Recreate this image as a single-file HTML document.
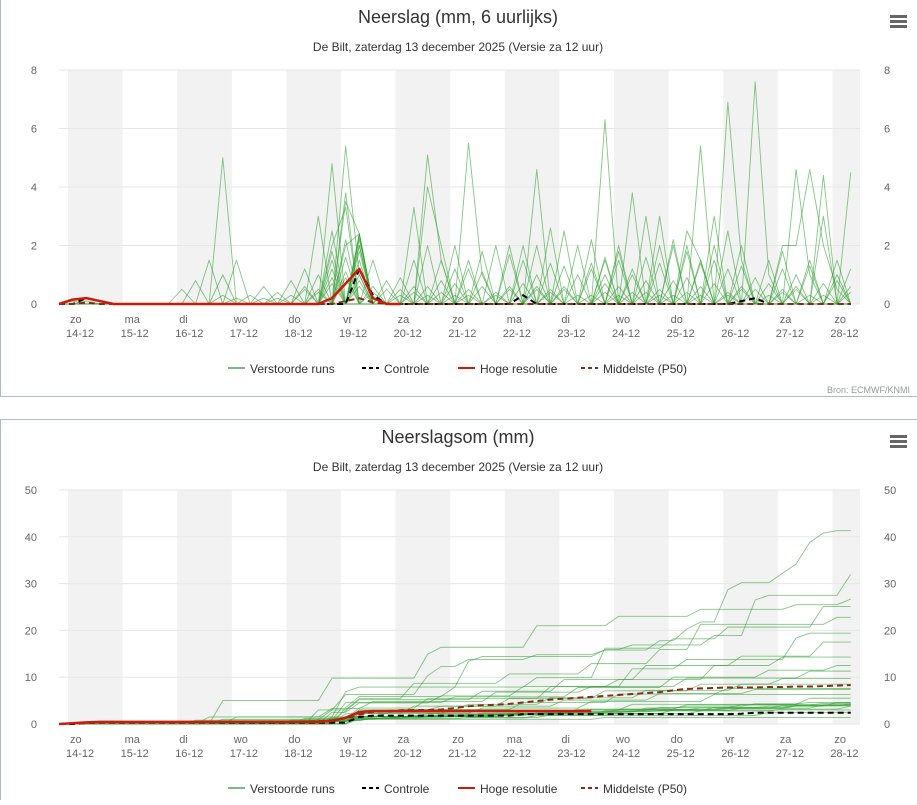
<!DOCTYPE html>
<html><head><meta charset="utf-8">
<style>
body{margin:0;background:#fff;font-family:"Liberation Sans",sans-serif;}
svg text{font-family:"Liberation Sans",sans-serif;}
</style></head>
<body>
<svg id="svg" width="917" height="800" xmlns="http://www.w3.org/2000/svg"></svg>
<script>
// ---- data (6-hourly precipitation, sparse events [stepIndex, mm]) ----
const dayNames = ["zo","ma","di","wo","do","vr","za","zo","ma","di","wo","do","vr","za","zo"];
const dayDates = ["14-12","15-12","16-12","17-12","18-12","19-12","20-12","21-12","22-12","23-12","24-12","25-12","26-12","27-12","28-12"];
const ticks1 = [0,2,4,6,8];
const ticks2 = [0,10,20,30,40,50];
const m1 = [[12,1.0],[20,2.0],[21,3.3],[27,4.0],[28,2],[30,1.5],[35,1],[40,1],[44,2],[46,2.5],[47,1.5],[49,6.9],[50,1.5],[53,2],[54,2],[55,4.6],[56,2],[57,0.5]];
const m2 = [[13,1.5],[21,5.4],[22,1],[30,5.5],[31,1],[40,1.5],[42,1],[48,2],[51,7.6],[52,1],[58,4.5]];
const m3 = [[12,5.0],[20,4.8],[27,5.1],[28,1.5],[35,4.6],[41,2],[47,1.5],[54,1],[58,1.2]];
const m4 = [[21,3.5],[22,2.4],[29,2],[35,2],[40,6.3],[45,2],[49,2.5],[56,4.4]];
const m5 = [[19,3],[22,2.4],[26,3.3],[33,2],[39,2.2],[44,3],[47,5.4],[57,1.5]];
const m6 = [[20,2.5],[22,2],[28,1.5],[34,2],[42,3.8],[46,2],[54,4.6],[55,1]];
const m7 = [[10,0.8],[21,2],[22,2.4],[31,1.8],[37,2.5],[43,3],[50,2],[56,3]];
const m8 = [[18,1.2],[22,2.2],[27,2],[36,2.6],[41,1.5],[48,3],[53,1.8]];
const m9 = [[17,0.8],[21,3.8],[29,1.2],[38,2],[45,2.2],[52,1.5],[57,1]];
const m10 = [[11,1.5],[20,1.8],[23,1.5],[32,2],[39,1.2],[46,1.8],[55,1.5]];
const m11 = [[22,2.3],[26,1.5],[33,1.7],[40,1.6],[47,1.4],[53,1.2]];
const m12 = [[19,1],[22,2],[30,1.2],[36,1.4],[43,1.6],[50,1.3]];
const m13 = [[21,2.2],[25,0.9],[34,1.5],[41,1.8],[49,1.2]];
const m14 = [[15,0.6],[22,2.4],[28,0.8],[37,1.3],[44,1.4],[51,0.9]];
const m15 = [[20,1.5],[24,0.8],[31,1.1],[39,1.4],[48,1.5]];
const m16 = [[9,0.5],[22,1.8],[29,0.7],[42,1.2],[55,1.3]];
const m17 = [[21,1.6],[27,0.6],[38,1.0],[46,0.9]];
const m18 = [[1,0.1],[22,1.5],[33,0.6],[45,0.8]];
const m19 = [[2,0.1],[20,1.2],[35,0.5],[52,0.7]];
const m20 = [[22,1.0],[40,0.4]];
const m21 = [[14,0.3],[19,0.5],[23,0.4],[26,0.6],[32,0.3],[37,0.5],[43,0.4],[49,0.3],[54,0.6]];
const m22 = [[16,0.4],[21,0.9],[25,0.3],[30,0.5],[36,0.4],[41,0.6],[47,0.3],[53,0.5],[58,0.4]];
const m23 = [[13,0.2],[18,0.6],[22,0.8],[28,0.4],[34,0.7],[39,0.3],[44,0.5],[50,0.6],[56,0.3]];
const m24 = [[17,0.3],[20,0.7],[24,0.5],[29,0.3],[35,0.6],[42,0.4],[48,0.7],[52,0.3],[57,0.8]];
const m25 = [[15,0.2],[21,1.1],[26,0.4],[31,0.6],[38,0.3],[43,0.8],[46,0.4],[51,0.5],[55,0.3]];
const m26 = [[12,0.3],[19,0.4],[23,0.6],[27,0.3],[33,0.5],[40,0.7],[45,0.3],[49,0.4],[54,0.5]];
const m27 = [[18,0.5],[22,0.6],[30,0.3],[36,0.5],[41,0.3],[47,0.6],[53,0.4],[58,0.6]];
const m28 = [[16,0.2],[20,0.9],[25,0.5],[32,0.4],[37,0.6],[44,0.3],[50,0.5],[56,0.7]];
const members = [m1,m2,m3,m4,m5,m6,m7,m8,m9,m10,m11,m12,m13,m14,m15,m16,m17,m18,m19,m20,m21,m22,m23,m24,m25,m26,m27,m28];
const control = [[2,0.2],[3,0.1],[22,1.2],[23,0.3],[34,0.3],[50,0.1],[51,0.2]];
const hires = [[1,0.15],[2,0.2],[3,0.1],[20,0.2],[21,0.7],[22,1.2],[23,0.2]];
const p50Step = [[2,0.05],[21,0.1],[22,0.2],[23,0.05]];
const p50Cum = [0,0.1,0.2,0.3,0.3,0.3,0.3,0.3,0.3,0.3,0.3,0.3,0.4,0.4,0.4,0.4,0.4,0.4,0.5,0.6,0.8,1.2,2.0,2.6,2.8,2.9,3.0,3.0,3.1,3.4,3.8,4.0,4.1,4.3,4.6,4.9,5.2,5.4,5.6,5.8,6.0,6.2,6.4,6.6,6.8,7.2,7.5,7.6,7.7,7.8,7.8,7.8,7.9,7.9,8.0,8.0,8.1,8.2,8.3];
const nSteps = 59, hiresSteps1 = 26, hiresSteps2 = 40;

// ---- helpers ----
const NS="http://www.w3.org/2000/svg";
const svg=document.getElementById('svg');
function el(tag,attrs,parent){const e=document.createElementNS(NS,tag);for(const k in attrs)e.setAttribute(k,attrs[k]);(parent||svg).appendChild(e);return e;}
function dense(ev,n){const a=new Array(n).fill(0);ev.forEach(([i,v])=>{if(i<n)a[i]+=v;});return a;}
function cum(a){let s=0;return a.map(v=>s+=v);}
const xStep=i=>59+i*13.65;
const dayX=d=>68+d*54.6;

function chart(oy,title,ymax,ticks,cumulative){
  const top=oy+70, bottom=oy+304, left=59, right=860;
  const y=v=>bottom-v/ymax*(bottom-top);
  const g=el('g',{});  
  for(let d=0;d<15;d+=2){const x0=dayX(d);const w=Math.min(54.6,right-x0);
    const b=el('rect',{x:x0,y:top,width:w,height:bottom-top,fill:'#f2f2f2'},g);
    }
  ticks.forEach(t=>{el('line',{x1:left,x2:right,y1:y(t),y2:y(t),stroke:'#e6e6e6'},g);
    const a=el('text',{x:left-22,y:y(t)+4,'font-size':11,fill:'#666','text-anchor':'end'},g);a.textContent=t;
    
    const b=el('text',{x:right+24,y:y(t)+4,'font-size':11,fill:'#666','text-anchor':'start'},g);b.textContent=t;
    });
  dayNames.forEach((n,d)=>{const x=dayX(d);
    const a=el('text',{x:x+2,y:bottom+19,'font-size':11,fill:'#666'},g);a.textContent=n;
    
    const b=el('text',{x:x-2,y:bottom+33,'font-size':11,fill:'#666'},g);b.textContent=dayDates[d];
    });
  function line(a,color,width,dash,name){
    const p=el('polyline',{points:a.map((v,i)=>xStep(i)+','+y(v)).join(' '),fill:'none',stroke:color,'stroke-width':width,'stroke-dasharray':dash||'none','stroke-linejoin':'round'},g);
    }
  function series(ev,n,color,width,dash,name){let a=dense(ev,n); if(cumulative)a=cum(a); line(a,color,width,dash,name);}
  members.forEach(m=>series(m,nSteps,'rgba(50,160,50,0.6)',0.9,null,'ensemble-member-line'));
  series(control,nSteps,'#000',2,'6,4','control-line');
  if(cumulative) line(p50Cum,'#8b2a1a',2,'6,4','p50-line'); else series(p50Step,nSteps,'#8b2a1a',2,'6,4','p50-line');
  series(hires,cumulative?hiresSteps2:hiresSteps1,'#d0190c',2.5,null,'hires-line');
  const t=el('text',{x:458,y:oy+23,'font-size':18,fill:'#333','text-anchor':'middle'},g);t.textContent=title;
  
  const s=el('text',{x:458,y:oy+51,'font-size':12,fill:'#333','text-anchor':'middle'},g);s.textContent='De Bilt, zaterdag 13 december 2025 (Versie za 12 uur)';
  
  const mg=el('g',{},g);
  [0,5,10].forEach(dy=>el('rect',{x:890,y:oy+15+dy,width:17,height:3,fill:'#666'},mg));
  const ly=oy+368, items=[['Verstoorde runs','#7dbb7d',null,228],['Controle','#000','4,3',362],['Hoge resolutie','#d0190c',null,458],['Middelste (P50)','#8b2a1a','4,3',581]];
  items.forEach(([lab,c,d,x])=>{const lg=el('g',{},g);
    el('line',{x1:x,x2:x+17,y1:ly,y2:ly,stroke:c,'stroke-width':2,'stroke-dasharray':d||'none'},lg);
    const tt=el('text',{x:x+22,y:ly+5,'font-size':12,fill:'#333'},lg);tt.textContent=lab;});
}
const f1=el('path',{d:'M0.5,0 V396.5 H917',fill:'none',stroke:'#a9bccb'});
const f2=el('path',{d:'M0.5,800 V419.5 H917',fill:'none',stroke:'#a9bccb'});
chart(0,'Neerslag (mm, 6 uurlijks)',8,ticks1,false);
chart(420,'Neerslagsom (mm)',50,ticks2,true);
const src=el('text',{x:910,y:393,'font-size':9,fill:'#999','text-anchor':'end'});src.textContent='Bron: ECMWF/KNMI';

</script>
</body></html>
